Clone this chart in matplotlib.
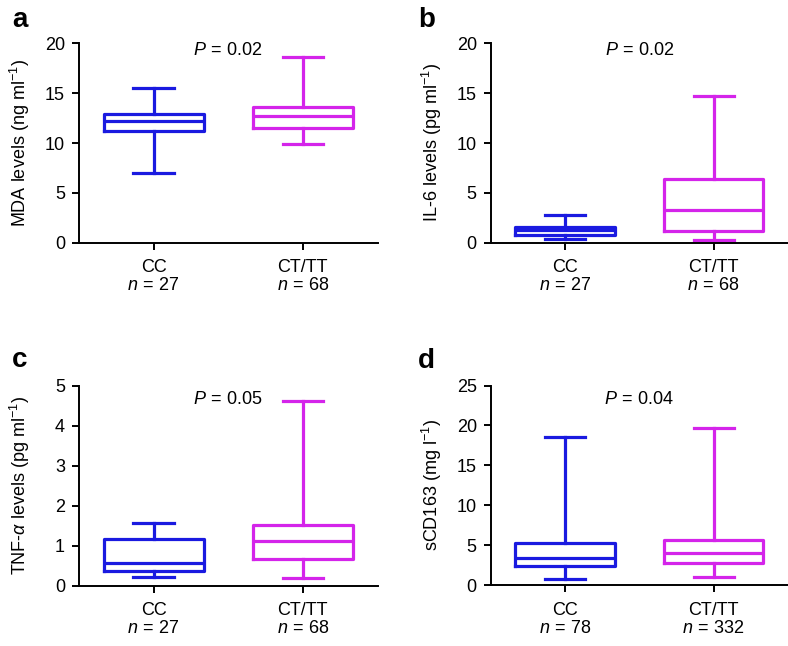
import matplotlib
matplotlib.use("Agg")
import matplotlib.pyplot as plt

plt.rcParams['font.family'] = ['Liberation Sans', 'DejaVu Sans']
plt.rcParams['mathtext.fontset'] = 'custom'
plt.rcParams['mathtext.rm'] = 'Liberation Sans'
plt.rcParams['mathtext.it'] = 'Liberation Sans:italic'
plt.rcParams['mathtext.bf'] = 'Liberation Sans:bold'

# groups and sample sizes
groups = ['CC', 'CT/TT']
n_abc = [27, 68]
n_d = [78, 332]

# box stats per panel: [CC, CT/TT] -> (whislo, q1, med, q3, whishi)
mda = [(7.0, 11.2, 12.2, 12.88, 15.55), (9.87, 11.47, 12.7, 13.58, 18.6)]
il6 = [(0.4, 0.77, 1.27, 1.6, 2.78), (0.3, 1.14, 3.31, 6.42, 14.75)]
tnf = [(0.21, 0.38, 0.58, 1.18, 1.57), (0.2, 0.68, 1.11, 1.52, 4.63)]
scd = [(0.79, 2.41, 3.41, 5.29, 18.6), (1.08, 2.79, 4.08, 5.7, 19.66)]

p_values = ['0.02', '0.02', '0.05', '0.04']
ylabels = [r'MDA levels (ng ml$^{-1}$)', r'IL-6 levels (pg ml$^{-1}$)',
           r'TNF-$\it{\alpha}$ levels (pg ml$^{-1}$)', r'sCD163 (mg l$^{-1}$)']
letters = ['a', 'b', 'c', 'd']
ymax = [20, 20, 5, 25]
ystep = [5, 5, 1, 5]

colors = ['#1a1ae0', '#d424ea']

W, H = 788, 646
fig = plt.figure(figsize=(W / 100, H / 100), dpi=100)

# axes rectangles in pixels: left, right, top (ymax), bottom (0)
rects = [(79, 377.5, 43.3, 242.7), (490.7, 788, 43.3, 242.7),
         (79, 377.5, 385.7, 585.7), (490.7, 788, 385.5, 585.3)]
p_y = [0.965, 0.965, 0.933, 0.932]
letter_xy = [(12, 27), (418, 27), (12, 367), (418, 368)]

data = [mda, il6, tnf, scd]
ns = [n_abc, n_abc, n_abc, n_d]

for i in range(4):
    l, r, t, b = rects[i]
    ax = fig.add_axes([l / W, 1 - b / H, (r - l) / W, (b - t) / H])
    stats = []
    for j, g in enumerate(groups):
        lo, q1, med, q3, hi = data[i][j]
        stats.append(dict(whislo=lo, q1=q1, med=med, q3=q3, whishi=hi, label=g))
    bp = ax.bxp(stats, positions=[0, 1], widths=0.67, showfliers=False,
                capwidths=0.27, patch_artist=False)
    for j in range(2):
        c = colors[j]
        for key in ['boxes', 'medians']:
            bp[key][j].set(color=c, linewidth=2.3)
        for k in (2 * j, 2 * j + 1):
            bp['whiskers'][k].set(color=c, linewidth=2.3)
            bp['caps'][k].set(color=c, linewidth=2.3)
    ax.set_xlim(-0.5, 1.5)
    ax.set_ylim(0, ymax[i])
    ax.set_yticks(range(0, ymax[i] + 1, ystep[i]))
    ax.set_xticks([0, 1])
    ax.set_xticklabels([r'%s' '\n' r'$n\,=\,$%d' % (g, n) for g, n in zip(groups, ns[i])],
                       linespacing=1.05)
    for s in ['top', 'right']:
        ax.spines[s].set_visible(False)
    for s in ['left', 'bottom']:
        ax.spines[s].set_linewidth(1.4)
    ax.tick_params(axis='both', width=1.4, labelsize=13)
    ax.tick_params(axis='y', length=5, pad=5)
    ax.tick_params(axis='x', length=5, pad=7)
    ax.set_ylabel(ylabels[i], fontsize=13)
    ax.yaxis.set_label_coords(-0.158, 0.5)
    ax.text(0.5, p_y[i], r'$P\,=\,$' + p_values[i], transform=ax.transAxes,
            ha='center', va='center', fontsize=13)
    fig.text(letter_xy[i][0] / W, 1 - letter_xy[i][1] / H, letters[i],
             fontsize=20, fontweight='bold', ha='left', va='baseline')

fig.savefig('out.png', dpi=100)
